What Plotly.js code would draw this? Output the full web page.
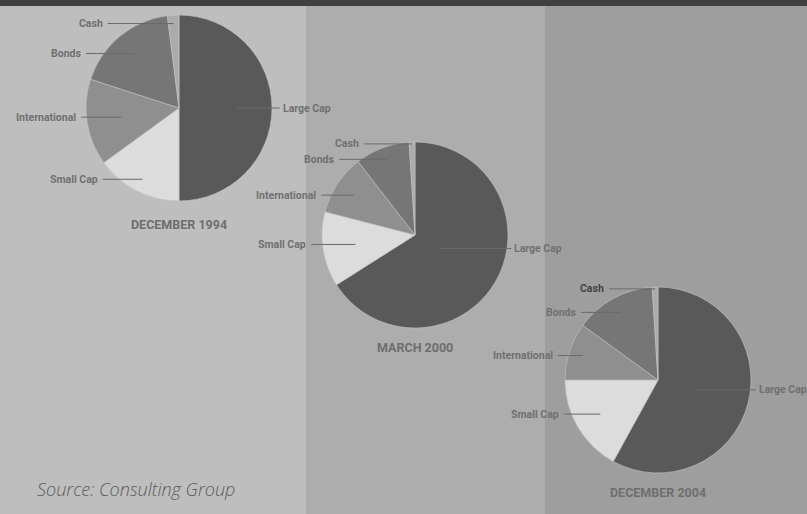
<!DOCTYPE html>
<html>
<head>
<meta charset="utf-8">
<script src="https://cdn.plot.ly/plotly-3.0.1.min.js"></script>
<style>html,body{margin:0;padding:0;background:#bebebe;}#chart{width:807px;height:514px;}</style>
</head>
<body>
<div id="chart"></div>
<script>
// ---- data ----
const categories = ['Large Cap', 'Small Cap', 'International', 'Bonds', 'Cash'];
const dec1994 = [50, 15, 15, 18, 2];
const mar2000 = [66, 13, 10.5, 9.5, 1];
const dec2004 = [58, 17, 10, 14, 1];
const pieTitles = ['DECEMBER 1994', 'MARCH 2000', 'DECEMBER 2004'];
const sourceText = 'Source: Consulting Group';

// ---- layout / style ----
const W = 807, H = 514;
const series = [dec1994, mar2000, dec2004];
const centers = [[179, 108], [415, 235], [658, 380]];
const R = 93;
const sliceColors = ['#595959', '#dcdcdc', '#8f8f8f', '#767676', '#ababab'];
const anchorFrac = [[0.62, 0.86, 0.63, 0.76, 0.91], [0.30, 0.65, 0.78, 0.87, 0.98], [0.43, 0.72, 0.85, 0.83, 0.98]];
const lineLen = [[43, 40, 40, 48, 66], [72, 44, 33, 47, 48], [59, 36, 25, 40, 46]];
const titleOffset = [116, 112, 112];
const labelColors = [['#707070','#707070','#707070','#707070','#707070'],
                     ['#707070','#707070','#707070','#707070','#707070'],
                     ['#707070','#707070','#707070','#707070','#444444']];
const bands = [[0, 306, '#bebebe'], [306, 545, '#adadad'], [545, 807, '#9e9e9e']];
const labelFont = "Roboto, 'DejaVu Sans Condensed', sans-serif";

const px = x => x / W;
const py = y => 1 - y / H;

const traces = [];
const shapes = [];
const annotations = [];

bands.forEach(b => shapes.push({type: 'rect', xref: 'paper', yref: 'paper', x0: px(b[0]), x1: px(b[1]), y0: 0, y1: 1, fillcolor: b[2], line: {width: 0}, layer: 'below'}));
shapes.push({type: 'rect', xref: 'paper', yref: 'paper', x0: 0, x1: 1, y0: py(6), y1: 1, fillcolor: '#404040', line: {width: 0}, layer: 'below'});

series.forEach((vals, i) => {
  const [cx, cy] = centers[i];
  traces.push({
    type: 'pie', values: vals, labels: categories, sort: false, direction: 'clockwise', rotation: 0,
    textinfo: 'none', hoverinfo: 'label+percent', showlegend: false,
    marker: {colors: sliceColors, line: {color: '#c4c4c4', width: 0.6}},
    domain: {x: [px(cx - R), px(cx + R)], y: [py(cy + R), py(cy - R)]}
  });
  const total = vals.reduce((a, b) => a + b, 0);
  let cum = 0;
  vals.forEach((v, j) => {
    const th = 2 * Math.PI * (cum + v / 2) / total;
    cum += v;
    const r = R * anchorFrac[i][j];
    const ax = cx + r * Math.sin(th);
    const ay = cy - r * Math.cos(th);
    const right = Math.sin(th) > 0.2;
    const ex = right ? ax + lineLen[i][j] : ax - lineLen[i][j];
    shapes.push({type: 'line', xref: 'paper', yref: 'paper', x0: px(ax), y0: py(ay), x1: px(ex), y1: py(ay), line: {color: '#6a6a6a', width: 1}});
    annotations.push({xref: 'paper', yref: 'paper', x: px(right ? ex + 1 : ex - 3), y: py(ay), text: categories[j], showarrow: false,
      xanchor: right ? 'left' : 'right', yanchor: 'middle', font: {family: labelFont, size: 10.5, weight: 700, color: labelColors[i][j]}});
  });
  annotations.push({xref: 'paper', yref: 'paper', x: px(cx), y: py(cy + titleOffset[i]), text: pieTitles[i], showarrow: false,
    xanchor: 'center', yanchor: 'middle', font: {family: labelFont, size: 12.5, weight: 700, color: '#6e6e6e'}});
});

annotations.push({xref: 'paper', yref: 'paper', x: px(35), y: py(489), text: sourceText, showarrow: false, xanchor: 'left', yanchor: 'middle',
  font: {family: "'Open Sans', 'Noto Sans', sans-serif", size: 18, style: 'italic', weight: 300, color: '#5c5c5c'}});

const layout = {
  width: W, height: H, margin: {l: 0, r: 0, t: 0, b: 0},
  paper_bgcolor: '#bebebe', plot_bgcolor: 'rgba(0,0,0,0)',
  shapes: shapes, annotations: annotations
};
Plotly.newPlot('chart', traces, layout, {displayModeBar: false, staticPlot: true});
</script>
</body>
</html>
